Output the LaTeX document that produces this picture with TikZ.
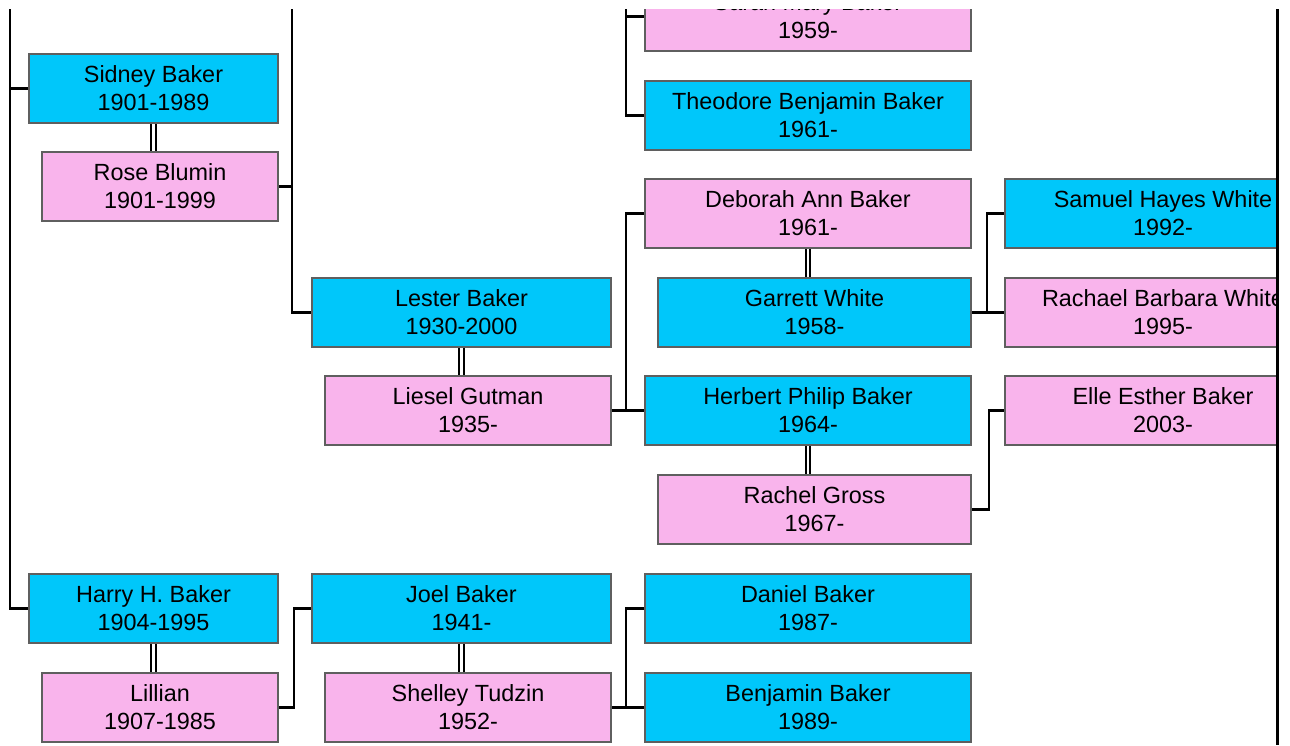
\documentclass[tikz,border=0pt]{standalone}
\usepackage{fontspec}
\setmainfont{Liberation Sans}
\definecolor{mblue}{RGB}{0,199,250}
\definecolor{mpink}{RGB}{249,180,236}
\definecolor{mborder}{RGB}{95,95,95}
\begin{document}
\begin{tikzpicture}[x=1pt,y=-1pt,
  person/.style={draw=mborder, line width=2pt, minimum height=69pt, inner sep=0pt,
    align=center, anchor=north west, font=\fontsize{23.4}{28}\selectfont},
  male/.style={person, fill=mblue},
  female/.style={person, fill=mpink},
  w249/.style={minimum width=249pt},
  w236/.style={minimum width=236pt},
  w299/.style={minimum width=299pt},
  w286/.style={minimum width=286pt},
  w326/.style={minimum width=326pt},
  w313/.style={minimum width=313pt},
  w316/.style={minimum width=316pt},
  link/.style={line width=2.5pt, black},
  wed/.style={double=white, double distance=2.5pt, line width=1.9pt, black}]
\useasboundingbox (0,0) rectangle (1290,745);
\begin{scope}
\clip (0,9) rectangle (1276,745);
% column 1
\node[male,w249]   (s1) at (28,53)  {Sidney Baker\\1901-1989};
\node[female,w236] (w1) at (41,151) {Rose Blumin\\1901-1999};
\node[male,w249]   (h1) at (28,573) {Harry H. Baker\\1904-1995};
\node[female,w236] (l1) at (41,672) {Lillian\\1907-1985};
% column 2
\node[male,w299]   (lb) at (311,277) {Lester Baker\\1930-2000};
\node[female,w286] (lg) at (324,375) {Liesel Gutman\\1935-};
\node[male,w299]   (jb) at (311,573) {Joel Baker\\1941-};
\node[female,w286] (st) at (324,672) {Shelley Tudzin\\1952-};
% column 3
\node[female,w326] (sm) at (644,-19) {Sarah Mary Baker\\1959-};
\node[male,w326]   (tb) at (644,80)  {Theodore Benjamin Baker\\1961-};
\node[female,w326] (da) at (644,178) {Deborah Ann Baker\\1961-};
\node[male,w313]   (gw) at (657,277) {Garrett White\\1958-};
\node[male,w326]   (hp) at (644,375) {Herbert Philip Baker\\1964-};
\node[female,w313] (rg) at (657,474) {Rachel Gross\\1967-};
\node[male,w326]   (db) at (644,573) {Daniel Baker\\1987-};
\node[male,w326]   (bb) at (644,672) {Benjamin Baker\\1989-};
% column 4
\node[male,w316]   (sw) at (1004,178) {Samuel Hayes White\\1992-};
\node[female,w316] (rw) at (1004,277) {Rachael Barbara White\\1995-};
\node[female,w316] (ee) at (1004,375) {Elle Esther Baker\\2003-};
% free ends
\coordinate (top1) at (10,0);
\coordinate (top2) at (292,0);
\coordinate (top3) at (626,0);
% connectors
\draw[link] (top1) |- (h1.west);
\draw[link] (s1.west) -- (s1.west -| top1);
\draw[link] (top2) |- (lb.west);
\draw[link] (w1.east) -- (w1.east -| top2);
\draw[link] (l1.east) -- ++(15,0) |- (jb.west);
\draw[link] (top3) |- (tb.west);
\draw[link] (sm.west) -- (sm.west -| top3);
\draw[link] (lg.east) -- (hp.west);
\draw[link] (da.west) -- ++(-18,0) |- (hp.west);
\draw[link] (gw.east) -- (rw.west);
\draw[link] (sw.west) -- ++(-17,0) |- (rw.west);
\draw[link] (rg.east) -- ++(17,0) |- (ee.west);
\draw[link] (st.east) -- (bb.west);
\draw[link] (db.west) -- ++(-18,0) |- (bb.west);
% marriages
\draw[wed] (s1.south) -- (s1.south |- w1.north);
\draw[wed] (h1.south) -- (h1.south |- l1.north);
\draw[wed] (lb.south) -- (lb.south |- lg.north);
\draw[wed] (jb.south) -- (jb.south |- st.north);
\draw[wed] (da.south) -- (da.south |- gw.north);
\draw[wed] (hp.south) -- (hp.south |- rg.north);
\end{scope}
\coordinate (edgetop) at (1277.5,9);
\coordinate (edgebot) at (1277.5,745);
\draw[line width=3pt] (edgetop) -- (edgebot);
\end{tikzpicture}
\end{document}
